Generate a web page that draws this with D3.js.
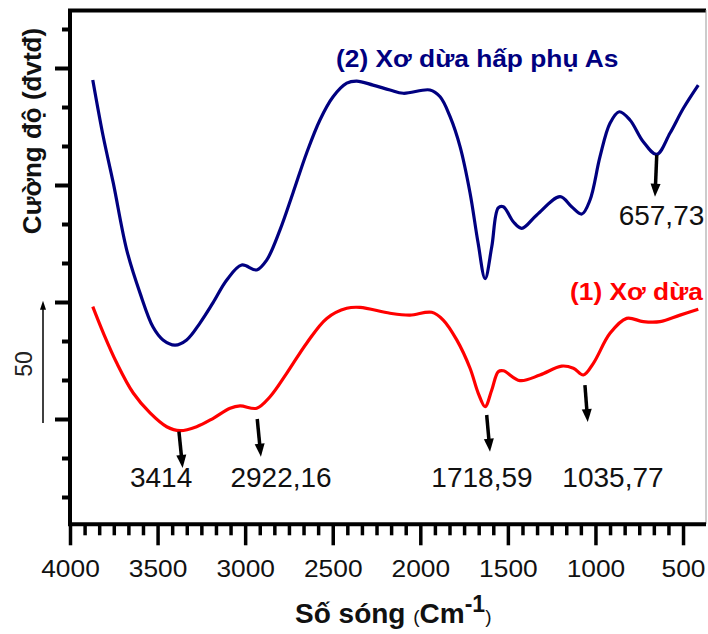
<!DOCTYPE html>
<html>
<head>
<meta charset="utf-8">
<script src="https://cdn.jsdelivr.net/npm/d3@7"></script>
<style>
  body { margin: 0; background: #fff; }
  svg { display: block; font-family: "Liberation Sans", Arial, sans-serif; }
</style>
</head>
<body>
<script>
// FTIR spectra: coir (1) and coir after As adsorption (2)
var w = 708, h = 634;

// (1) Xo dua - wavenumber (cm-1) and intensity (a.u.)
var coirWn = [3870, 3810, 3733, 3639, 3543, 3448, 3372, 3277, 3182, 3086, 3029, 2934, 2858, 2763, 2649, 2534, 2420, 2344, 2173, 2059, 1935, 1869, 1792, 1716, 1669, 1630, 1592, 1555, 1526, 1431, 1317, 1193, 1126, 1069, 1012, 917, 822, 727, 631, 517, 413];
var coirT  = [98.0, 86.8, 73.9, 61.1, 52.6, 46.7, 45.0, 46.7, 50.3, 54.6, 55.6, 54.6, 59.5, 69.5, 82.4, 93.0, 97.3, 97.7, 95.2, 94.4, 95.6, 92.3, 83.8, 71.7, 61.0, 55.3, 62.4, 70.2, 70.6, 66.4, 68.8, 72.6, 71.7, 68.8, 73.8, 86.6, 93.0, 91.6, 91.6, 94.4, 96.9];

// (2) Xo dua hap phu As
var coirAsWn = [3870, 3810, 3753, 3676, 3600, 3526, 3469, 3400, 3334, 3258, 3184, 3105, 3020, 2934, 2877, 2801, 2727, 2649, 2573, 2498, 2420, 2363, 2270, 2173, 2097, 1945, 1887, 1830, 1773, 1716, 1670, 1630, 1592, 1555, 1526, 1469, 1421, 1335, 1202, 1136, 1078, 1031, 974, 917, 864, 803, 727, 650, 574, 498, 413];
var coirAsT  = [194.9, 170.6, 150.9, 122.2, 103.8, 89.3, 83.8, 81.6, 83.8, 91.0, 99.6, 109.4, 115.8, 113.7, 117.9, 130.8, 146.6, 163.7, 177.8, 187.7, 193.5, 194.4, 192.7, 190.6, 189.2, 190.6, 187.7, 179.2, 166.4, 146.6, 125.2, 110.0, 123.6, 140.2, 140.7, 134.3, 131.5, 137.2, 145.0, 140.7, 137.6, 143.6, 162.1, 176.4, 181.3, 177.8, 168.5, 163.1, 172.2, 182.8, 192.7];

// peak markers
var peakLabels = ["3414", "2922,16", "1718,59", "1035,77", "657,73"];
var arrowFrom  = [[3378, 44.6], [2931, 50.0], [1621, 51.7], [1060, 64.5], [650, 162.8]];
var arrowTo    = [[3357, 29.1], [2910, 33.9], [1602, 36.0], [1044, 48.7], [660, 145.0]];
var labelAt    = [[3480, 20.9], [2795, 20.9], [1648, 20.9], [900, 20.9], [623, 132.9]];

var xMajor = [4000, 3500, 3000, 2500, 2000, 1500, 1000, 500];
var xMinor = d3.range(0, 43).map(function(k) { return 4000 - k * 500 / 6; })
               .filter(function(v) { return v > 370 && notMajor(v); });
function notMajor(v) { return Math.abs(v / 500 - Math.round(v / 500)) > 0.01; }
var yMajor = [50, 100, 150, 200];
var yMinor = [16.67, 33.33, 66.67, 83.33, 116.67, 133.33, 166.67, 183.33, 216.67];

var x = d3.scaleLinear().domain([4000, 370]).range([70, 705.8]);
var y = d3.scaleLinear().domain([5, 225]).range([524.3, 9.5]);

var svg = d3.select("body").append("svg")
            .attr("width", w)
            .attr("height", h);

function stretch(sel, k) {
  sel.each(function() {
    var L = this.getComputedTextLength();
    d3.select(this).attr("textLength", L * k).attr("lengthAdjust", "spacingAndGlyphs");
  });
}

// frame (top + right)
svg.append("line").attr("x1", 68).attr("x2", 706).attr("y1", 10.5).attr("y2", 10.5)
   .attr("stroke", "#000").attr("stroke-width", 4);
svg.append("line").attr("x1", 706).attr("x2", 706).attr("y1", 10).attr("y2", 524)
   .attr("stroke", "#999").attr("stroke-width", 1);

// x axis
var gxMinor = svg.append("g").attr("transform", "translate(0,524.3)")
  .call(d3.axisBottom(x).tickValues(xMinor).tickSize(11).tickSizeOuter(0).tickFormat(""));
var gx = svg.append("g").attr("transform", "translate(0,524.3)")
  .call(d3.axisBottom(x).tickValues(xMajor).tickSize(21).tickSizeOuter(0).tickFormat(d3.format("d")));
gx.select(".domain").attr("stroke-width", 4).attr("d", "M68,0H706");
gxMinor.select(".domain").remove();
svg.selectAll("g.tick line").attr("stroke-width", 3.5);
gx.selectAll("text").attr("y", 53).attr("dy", 0)
  .attr("font-size", 23.5).attr("fill", "#111")
  .attr("font-family", "'Liberation Sans', Arial, sans-serif");
stretch(gx.selectAll("text"), 1.12);

// y axis
var gyMinor = svg.append("g").attr("transform", "translate(70,0)")
  .call(d3.axisLeft(y).tickValues(yMinor).tickSize(8).tickSizeOuter(0).tickFormat(""));
var gy = svg.append("g").attr("transform", "translate(70,0)")
  .call(d3.axisLeft(y).tickValues(yMajor).tickSize(15).tickSizeOuter(0).tickFormat(""));
gyMinor.select(".domain").remove();
gy.select(".domain").attr("stroke-width", 4).attr("d", "M0,9V526");
gy.selectAll("line").attr("stroke-width", 4);
gyMinor.selectAll("line").attr("stroke-width", 4);

// spectra
var line = d3.line()
  .x(function(d) { return x(d[0]); })
  .y(function(d) { return y(d[1]); })
  .curve(d3.curveCatmullRom.alpha(0.5));

var coir = coirWn.map(function(v, i) { return [v, coirT[i]]; });
var coirAs = coirAsWn.map(function(v, i) { return [v, coirAsT[i]]; });

svg.append("path").datum(coir).attr("d", line)
   .attr("fill", "none").attr("stroke", "#ff0000").attr("stroke-width", 3.2)
   .attr("stroke-linejoin", "round");
svg.append("path").datum(coirAs).attr("d", line)
   .attr("fill", "none").attr("stroke", "#000080").attr("stroke-width", 3.2)
   .attr("stroke-linejoin", "round");

// arrows with heads
function arrow(x1, y1, x2, y2, sw, hl, hw) {
  var dx = x2 - x1, dy = y2 - y1, L = Math.sqrt(dx * dx + dy * dy);
  var ux = dx / L, uy = dy / L;
  var bx = x2 - ux * hl, by = y2 - uy * hl;
  svg.append("line").attr("x1", x1).attr("y1", y1).attr("x2", bx + ux).attr("y2", by + uy)
     .attr("stroke", "#000").attr("stroke-width", sw);
  svg.append("polygon")
     .attr("points", [[x2, y2], [bx - uy * hw, by + ux * hw], [bx + uy * hw, by - ux * hw]].join(" "))
     .attr("fill", "#000");
}
arrowFrom.forEach(function(p, i) {
  var q = arrowTo[i];
  arrow(x(p[0]), y(p[1]), x(q[0]), y(q[1]), 3.5, 13, 5);
});

svg.selectAll("text.peak").data(peakLabels).enter().append("text")
   .attr("class", "peak")
   .attr("x", function(d, i) { return x(labelAt[i][0]); })
   .attr("y", function(d, i) { return y(labelAt[i][1]); })
   .attr("text-anchor", "middle")
   .attr("font-size", 28)
   .attr("fill", "#111")
   .text(function(d) { return d; });

// series labels
svg.append("text").attr("x", 336).attr("y", 67)
   .attr("font-size", 23.5).attr("font-weight", "bold").attr("fill", "#000080")
   .text("(2) Xơ dừa hấp phụ As")
   .call(stretch, 1.12);
svg.append("text").attr("x", 570).attr("y", 300)
   .attr("font-size", 23.5).attr("font-weight", "bold").attr("fill", "#ff0000")
   .text("(1) Xơ dừa")
   .call(stretch, 1.12);

// scale bar (50 units)
arrow(43, y(48.3), 43, y(100.5), 1.5, 9, 3);
svg.append("text")
   .attr("transform", "translate(32,364) rotate(-90)")
   .attr("text-anchor", "middle").attr("font-size", 23).attr("fill", "#222")
   .text("50");

// axis titles
svg.append("text")
   .attr("transform", "translate(41,131) rotate(-90)")
   .attr("text-anchor", "middle").attr("font-size", 26).attr("font-weight", "bold")
   .attr("fill", "#111")
   .text("Cường độ (đvtđ)");

var xt = svg.append("text").attr("x", 295).attr("y", 623).attr("fill", "#111");
xt.append("tspan").attr("font-size", 28).attr("font-weight", "bold").text("Số sóng ");
xt.append("tspan").attr("font-size", 19).text("(");
xt.append("tspan").attr("font-size", 28).attr("font-weight", "bold").text("Cm");
xt.append("tspan").attr("font-size", 23).attr("font-weight", "bold").attr("dy", -11).text("-1");
xt.append("tspan").attr("font-size", 19).attr("dy", 11).text(")");
</script>
</body>
</html>
